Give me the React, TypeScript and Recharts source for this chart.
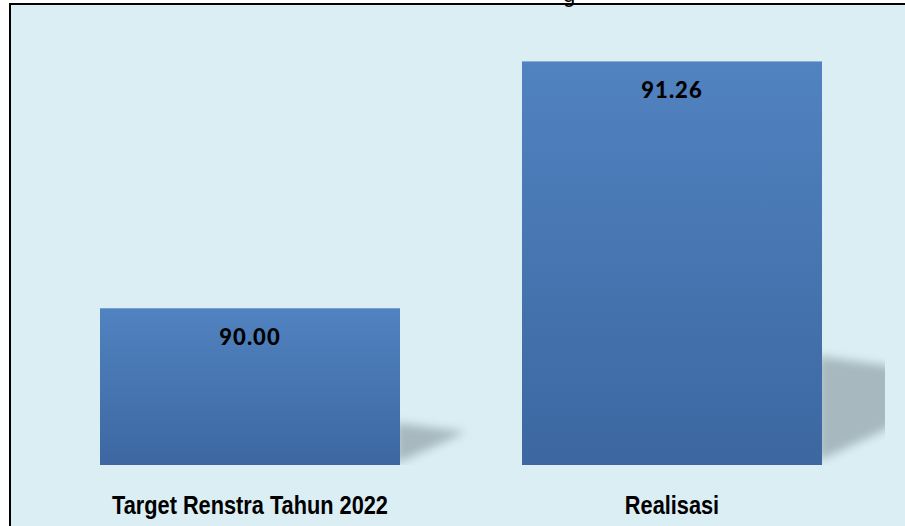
import { BarChart, Bar, XAxis, YAxis, LabelList } from 'recharts'

const categories = ['Target Renstra Tahun 2022', 'Realisasi']
const values = [90.0, 91.26]
const yDomain = [89.2, 91.4]

const data = categories.map((name, i) => ({ name, value: values[i] }))

const W = 905
const H = 526
const PLOT_RIGHT = 885

// bar with a blurred floor shadow to its right
const ShadowBar = (props: any) => {
  const { x, y, width, height } = props
  const bottom = y + height
  const right = x + width
  const pts = [
    [right - 4, bottom - 0.27 * height],
    [right + 0.42 * height, bottom - 0.21 * height],
    [right - 4, bottom - 0.01 * height],
  ]
  return (
    <g>
      <g clipPath="url(#plotClip)">
        <polygon
          points={pts.map(p => p.join(',')).join(' ')}
          fill="#a7b8bf"
          filter="url(#shadowBlur)"
        />
      </g>
      <rect x={x} y={bottom} width={width} height={2} fill="#c8dde4" />
      <rect x={x} y={y} width={width} height={height} fill="url(#barGrad)" />
    </g>
  )
}

const ValueLabel = (props: any) => {
  const { x, y, width, value } = props
  return (
    <text
      x={x + width / 2}
      y={y + 37}
      textAnchor="middle"
      fill="#000"
      style={{ fontFamily: 'Lato', fontWeight: 900, fontSize: 22, letterSpacing: 1 }}
    >
      {Number(value).toFixed(2)}
    </text>
  )
}

const CategoryTick = (props: any) => {
  const { x, y, payload } = props
  return (
    <text
      x={x}
      y={y + 41}
      textAnchor="middle"
      fill="#000"
      transform={`translate(${x} 0) scale(0.87 1) translate(${-x} 0)`}
      style={{ fontFamily: '"Liberation Sans"', fontWeight: 700, fontSize: 25 }}
    >
      {payload.value}
    </text>
  )
}

export default function App() {
  return (
    <div style={{ position: 'absolute', left: 0, top: 0, width: W, height: H, background: '#fff', overflow: 'hidden' }}>
      {/* chart frame */}
      <div
        style={{
          position: 'absolute',
          left: 9,
          top: 3,
          width: 1000,
          height: 700,
          background: '#dbeef4',
          border: '2px solid #000',
        }}
      />
      {/* title, cut off at the top */}
      <div
        style={{
          position: 'absolute',
          left: 563,
          top: -18,
          fontFamily: '"Liberation Sans"',
          fontSize: 22,
          color: '#000',
        }}
      >
        g
      </div>
      <div style={{ position: 'absolute', left: 0, top: 0 }}>
        <BarChart
          width={W}
          height={H}
          data={data}
          margin={{ top: 34, right: 22, bottom: 0, left: 39 }}
          barCategoryGap={61}
        >
          <defs>
            <linearGradient id="barGrad" x1="0" y1="0" x2="0" y2="1">
              <stop offset="0%" stopColor="#5183c0" />
              <stop offset="100%" stopColor="#3c67a1" />
            </linearGradient>
            <filter id="shadowBlur" x="-50%" y="-50%" width="200%" height="200%">
              <feGaussianBlur stdDeviation="5" />
            </filter>
            <clipPath id="plotClip">
              <rect x={0} y={0} width={PLOT_RIGHT} height={H} />
            </clipPath>
          </defs>
          <XAxis
            dataKey="name"
            axisLine={false}
            tickLine={false}
            height={61}
            tick={<CategoryTick />}
            interval={0}
          />
          <YAxis hide domain={yDomain} allowDataOverflow />
          <Bar dataKey="value" shape={<ShadowBar />} isAnimationActive={false}>
            <LabelList dataKey="value" content={<ValueLabel />} />
          </Bar>
        </BarChart>
      </div>
    </div>
  )
}
